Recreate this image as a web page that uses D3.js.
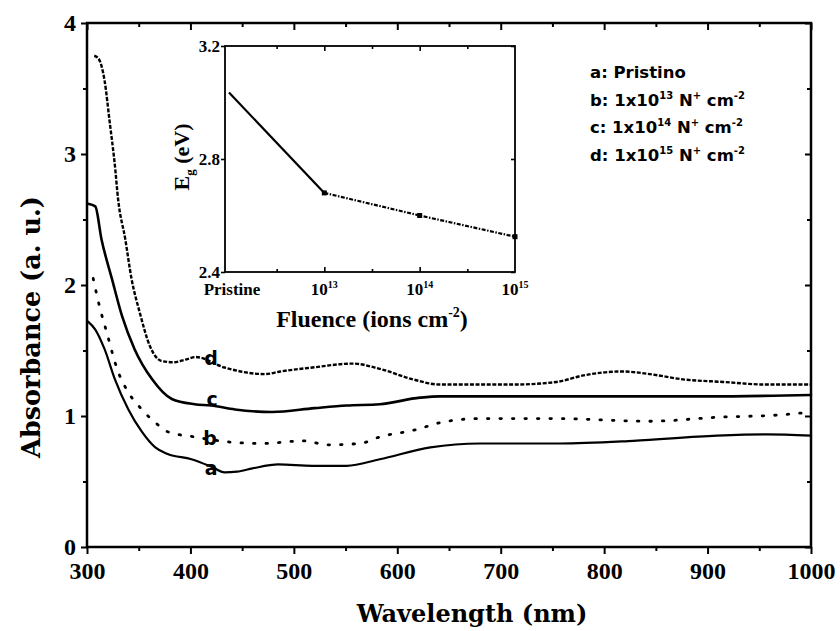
<!DOCTYPE html>
<html>
<head>
<meta charset="utf-8">
<script src="https://cdn.jsdelivr.net/npm/d3@7"></script>
<style>
  body { margin: 0; background: #fff; }
  .serif { font-family: "Liberation Serif", "DejaVu Serif", serif; font-weight: bold; }
  .wserif { font-family: "DejaVu Serif", "Liberation Serif", serif; font-weight: bold; }
  .sans { font-family: "DejaVu Sans", "Liberation Sans", sans-serif; font-weight: bold; }
</style>
</head>
<body>
<script>

// absorbance spectra: [wavelength (nm), absorbance]
var curveA = [[301,1.72],[308,1.66],[317,1.51],[327,1.28],[340,1.05],[353,0.88],[366,0.76],[378,0.71],
  [401,0.67],[421,0.61],[433,0.57],[445,0.575],[460,0.60],[485,0.63],[518,0.62],[551,0.62],[583,0.67],
  [632,0.76],[680,0.79],[757,0.79],[828,0.81],[909,0.85],[957,0.86],[1000,0.85]];

var curveB = [[306,2.05],[312,1.84],[319,1.64],[330,1.34],[340,1.18],[353,1.05],[366,0.95],[378,0.88],
  [404,0.84],[440,0.80],[469,0.79],[509,0.81],[533,0.78],[564,0.79],[583,0.84],[615,0.89],[648,0.96],
  [680,0.98],[754,0.98],[844,0.96],[909,0.99],[973,1.01],[1000,1.03]];

var curveC = [[301,2.62],[308,2.60],[314,2.35],[324,2.05],[334,1.76],[346,1.51],[363,1.28],[382,1.13],
  [404,1.09],[420,1.08],[443,1.05],[479,1.03],[520,1.06],[551,1.08],[583,1.09],[622,1.14],[641,1.15],
  [757,1.15],[900,1.15],[1000,1.16]];

var curveD = [[307,3.75],[311,3.73],[317,3.56],[322,3.24],[327,2.91],[330,2.66],[337,2.35],[343,2.05],
  [351,1.79],[361,1.53],[372,1.42],[384,1.41],[395,1.43],[405,1.45],[433,1.37],[472,1.32],[487,1.34],
  [518,1.37],[557,1.40],[583,1.36],[615,1.28],[641,1.24],[712,1.24],[754,1.26],[780,1.31],[818,1.34],
  [844,1.32],[876,1.28],[915,1.26],[957,1.24],[1000,1.24]];

// curve letters placed next to the curves: [wavelength, absorbance, letter]
var curveLetters = [[420,1.44,"d"],[421,1.13,"c"],[419,0.83,"b"],[420,0.60,"a"]];

// main axis ticks
var xTicks = [300,400,500,600,700,800,900,1000];
var xMinor = [350,450,550,650,750,850,950];
var yTicks = [0,1,2,3,4];
var yMinor = [0.5,1.5,2.5,3.5];

// inset: band gap vs fluence
var fluenceLabels = ["Pristine","13","14","15"];
var bandGap = [3.035,2.68,2.60,2.525];
var insetYTicks = [2.4,2.8,3.2];

// legend
var legendKeys = ["a","b","c","d"];
var legendExp = [null,"13","14","15"];

var svg = d3.select("body").append("svg")
  .attr("width",840)
  .attr("height",631);

svg.append("rect").attr("width",840).attr("height",631).attr("fill","#fff");

// main scales
var xScale = d3.scaleLinear().domain([300,1000]).range([87,811]);
var yScale = d3.scaleLinear().domain([0,4]).range([547,23]);

function tickAxis(g, axis, vals, size, labels){
  g.call(axis.tickValues(vals).tickSizeInner(size).tickSizeOuter(0).tickPadding(5)
      .tickFormat(labels ? d3.format("d") : ""));
  g.select(".domain").remove();
  g.selectAll("line").attr("stroke","#000").attr("stroke-width",2);
}

// bottom (out), left (out), top (in), right (in)
var gx = svg.append("g").attr("transform","translate(0,547)");
tickAxis(gx, d3.axisBottom(xScale), xTicks, 7, true);
tickAxis(svg.append("g").attr("transform","translate(0,547)"), d3.axisBottom(xScale), xMinor, 4, false);
gx.selectAll("text").attr("class","serif").style("font-size","24px").attr("fill","#000").attr("dy","0.85em");

var gy = svg.append("g").attr("transform","translate(87,0)");
tickAxis(gy, d3.axisLeft(yScale), yTicks, 6, true);
tickAxis(svg.append("g").attr("transform","translate(87,0)"), d3.axisLeft(yScale), yMinor, 4, false);
gy.selectAll("text").attr("class","serif").style("font-size","24px").attr("fill","#000");

tickAxis(svg.append("g").attr("transform","translate(0,23)"), d3.axisTop(xScale), xTicks, -7, false);
tickAxis(svg.append("g").attr("transform","translate(0,23)"), d3.axisTop(xScale), xMinor, -4, false);
tickAxis(svg.append("g").attr("transform","translate(811,0)"), d3.axisRight(yScale), yTicks, -6, false);
tickAxis(svg.append("g").attr("transform","translate(811,0)"), d3.axisRight(yScale), yMinor, -4, false);

// frame
svg.append("rect")
  .attr("x",87).attr("y",23).attr("width",724).attr("height",524)
  .attr("fill","none").attr("stroke","#000").attr("stroke-width",2.5);

// curves
var line = d3.line()
  .x(function(d){ return xScale(d[0]); })
  .y(function(d){ return yScale(d[1]); })
  .curve(d3.curveMonotoneX);

var curves = [
  {data: curveA, dash: null, w: 2.2, cap: "round"},
  {data: curveB, dash: "1.5,11", w: 2.8, cap: "round"},
  {data: curveC, dash: null, w: 2.6, cap: "round"},
  {data: curveD, dash: "4,1.6", w: 2.4, cap: "butt"}
];

curves.forEach(function(c){
  svg.append("path")
    .attr("d", line(c.data))
    .attr("fill","none")
    .attr("stroke","#000")
    .attr("stroke-width",c.w)
    .attr("stroke-linecap",c.cap)
    .attr("stroke-dasharray",c.dash);
});

svg.selectAll(".letter").data(curveLetters).enter().append("text")
  .attr("class","sans")
  .attr("x",function(d){ return xScale(d[0]); })
  .attr("y",function(d){ return yScale(d[1]); })
  .attr("dy","0.35em")
  .attr("text-anchor","middle")
  .style("font-size","19px")
  .text(function(d){ return d[2]; });

// axis titles
svg.append("text")
  .attr("class","wserif")
  .attr("x",472).attr("y",622)
  .attr("text-anchor","middle")
  .style("font-size","24px")
  .text("Wavelength (nm)");

svg.append("text")
  .attr("class","wserif")
  .attr("transform","translate(40,327) rotate(-90)")
  .attr("text-anchor","middle")
  .style("font-size","25.5px")
  .text("Absorbance (a. u.)");

// legend
legendKeys.forEach(function(k,i){
  var t = svg.append("text")
    .attr("class","sans")
    .attr("x",590).attr("y",78 + i*27.5)
    .style("font-size","16.5px");
  if (legendExp[i] === null){
    t.text(k + ": Pristino");
  } else {
    t.append("tspan").text(k + ": 1x10");
    t.append("tspan").attr("dy",-7).style("font-size","10px").text(legendExp[i]);
    t.append("tspan").attr("dy",7).text(" N");
    t.append("tspan").attr("dy",-7).style("font-size","10px").text("+");
    t.append("tspan").attr("dy",7).text(" cm");
    t.append("tspan").attr("dy",-7).style("font-size","10px").text("-2");
  }
});

// ---------- inset ----------
var ix = d3.scaleLinear().domain([0,3]).range([229,515]);
var iy = d3.scaleLinear().domain([2.4,3.2]).range([272,46]);
var iMinor = [0.5,1.5,2.5];

function insetTicks(g, axis, vals, size){
  g.call(axis.tickValues(vals).tickSizeInner(size).tickSizeOuter(0).tickFormat(""));
  g.select(".domain").remove();
  g.selectAll("line").attr("stroke","#000").attr("stroke-width",1.6);
}

insetTicks(svg.append("g").attr("transform","translate(0,272)"), d3.axisBottom(ix), [1,2], -5);
insetTicks(svg.append("g").attr("transform","translate(0,272)"), d3.axisBottom(ix), iMinor, -3);
insetTicks(svg.append("g").attr("transform","translate(0,46)"), d3.axisTop(ix), [1,2], -5);
insetTicks(svg.append("g").attr("transform","translate(0,46)"), d3.axisTop(ix), iMinor, -3);
insetTicks(svg.append("g").attr("transform","translate(225,0)"), d3.axisLeft(iy), insetYTicks, 4);
insetTicks(svg.append("g").attr("transform","translate(515,0)"), d3.axisRight(iy), insetYTicks, -4);

svg.append("rect")
  .attr("x",225).attr("y",46).attr("width",290).attr("height",226)
  .attr("fill","none").attr("stroke","#000").attr("stroke-width",1.8);

// y tick labels
svg.selectAll(".iylab").data(insetYTicks).enter().append("text")
  .attr("class","serif")
  .attr("x",220)
  .attr("y",function(d){ return iy(d); })
  .attr("dy","0.35em")
  .attr("text-anchor","end")
  .style("font-size","17px")
  .text(function(d){ return d3.format(".1f")(d); });

// x tick labels
fluenceLabels.forEach(function(lab,i){
  var t = svg.append("text")
    .attr("class","serif")
    .attr("x", i === 0 ? ix(i) + 3 : ix(i))
    .attr("y",295)
    .attr("text-anchor","middle")
    .style("font-size","17px");
  if (i === 0){
    t.text(lab);
  } else {
    t.append("tspan").text("10");
    t.append("tspan").attr("dy",-7).style("font-size","10px").text(lab);
  }
});

// inset titles
var ft = svg.append("text")
  .attr("class","serif")
  .attr("x",372).attr("y",327)
  .attr("text-anchor","middle")
  .style("font-size","24px");
ft.append("tspan").text("Fluence (ions cm");
ft.append("tspan").attr("dy",-10).style("font-size","14px").text("-2");
ft.append("tspan").attr("dy",10).text(")");

var et = svg.append("text")
  .attr("class","serif")
  .attr("transform","translate(189,157) rotate(-90)")
  .attr("text-anchor","middle")
  .style("font-size","22px");
et.append("tspan").text("E");
et.append("tspan").attr("dy",5).style("font-size","13px").text("g");
et.append("tspan").attr("dy",-5).text(" (eV)");

// band gap line: solid first segment, dashed after
var bgPoints = bandGap.map(function(v,i){ return [i,v]; });
var iline = d3.line()
  .x(function(d){ return ix(d[0]); })
  .y(function(d){ return iy(d[1]); });

svg.append("path")
  .attr("d", iline(bgPoints.slice(0,2)))
  .attr("fill","none").attr("stroke","#000").attr("stroke-width",2.2);

svg.append("path")
  .attr("d", iline(bgPoints.slice(1)))
  .attr("fill","none").attr("stroke","#000").attr("stroke-width",2.2)
  .attr("stroke-dasharray","4,1.5,1.5,1.5");

svg.selectAll(".bgpt").data(bgPoints.slice(1)).enter().append("rect")
  .attr("x",function(d){ return ix(d[0]) - 2.5; })
  .attr("y",function(d){ return iy(d[1]) - 2.5; })
  .attr("width",5).attr("height",5)
  .attr("fill","#000");

</script>
</body>
</html>
